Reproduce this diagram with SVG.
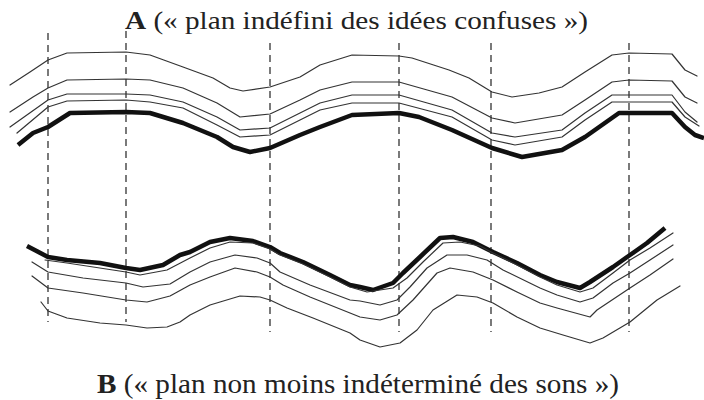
<svg xmlns="http://www.w3.org/2000/svg" width="704" height="400" viewBox="0 0 704 400">
<style>
.t{font-family:"Liberation Serif","Times New Roman",serif;fill:#222}
.th{fill:none;stroke:#333;stroke-width:1.2;stroke-linejoin:round;stroke-linecap:round}
.tk{fill:none;stroke:#111;stroke-width:4.5;stroke-linejoin:round;stroke-linecap:butt}
.d{stroke:#222;stroke-width:1.2;stroke-dasharray:7 5}
</style>
<rect width="704" height="400" fill="#fff"/>
<g id="dividers">
<line class="d" x1="48" y1="33" x2="48" y2="322"/>
<line class="d" x1="126" y1="31" x2="126" y2="322"/>
<line class="d" x1="270" y1="43" x2="270" y2="332"/>
<line class="d" x1="399" y1="43" x2="399" y2="332"/>
<line class="d" x1="491" y1="43" x2="491" y2="332"/>
<line class="d" x1="629" y1="43" x2="629" y2="332"/>
</g>
<g id="planA">
<polyline class="th" points="10,85 30,72 48,60 67,53 126,52 150,55 183,67 213,78 230,88 243,91 270,87 300,77 320,65 352,55 399,56 412,58 449,70 469,78 492,92 512,97 539,93 562,87 585,72 612,55 629,53 672,54 685,70 697,76"/>
<polyline class="th" points="10,112 33,97 48,88 67,80 126,79 150,80 183,88 217,103 240,117 270,114 300,100 320,90 352,82 399,82 452,97 492,118 515,123 562,115 585,100 612,82 629,80 672,81 685,97 697,103"/>
<polyline class="th" points="10,127 48,100 67,94 126,94 150,95 183,102 217,117 240,130 270,128 300,113 320,103 352,95 399,95 452,110 492,133 515,137 562,130 585,113 612,95 629,95 672,95 685,112 697,122"/>
<polyline class="th" points="17,133 48,107 67,101 126,100 150,102 183,108 217,125 240,137 270,135 300,120 320,110 352,103 399,103 452,117 492,140 515,145 562,137 585,120 612,102 629,102 672,102 685,117 699,126"/>
<polyline class="tk" points="18,145 33,133 48,127 70,113 126,112 150,113 183,123 217,137 233,147 250,152 270,148 300,135 320,127 352,115 399,113 419,117 452,130 492,148 522,157 562,150 585,137 619,113 672,113 685,127 695,135 704,138"/>
</g>
<g id="planB">
<polyline class="tk" points="27,246 48,257 67,260 100,263 126,268 140,270 163,265 180,255 190,252 210,242 230,238 253,241 270,247 280,253 303,262 330,275 350,285 360,287 373,290 393,283 403,273 420,257 440,238 453,237 473,242 493,252 517,263 540,275 557,282 580,288 590,282 613,267 630,255 647,243 665,228"/>
<polyline class="th" points="45,260 67,263 126,272 140,275 167,270 190,258 210,248 230,242 253,243 270,249 280,255 303,264 330,277 350,287 367,292 393,288 407,278 423,262 443,243 460,242 480,246 493,253 517,265 540,277 557,285 580,292 593,288 613,273 630,260 650,248 673,233"/>
<polyline class="th" points="32,262 48,272 83,278 126,283 143,287 170,284 190,272 210,262 235,255 257,258 270,263 280,272 310,285 350,300 360,301 380,305 397,300 410,287 427,268 447,255 467,255 487,260 503,270 540,288 557,295 580,302 593,298 613,283 630,273 650,260 673,245"/>
<polyline class="th" points="32,276 48,288 83,293 126,300 147,302 170,296 190,285 210,277 235,268 257,272 270,277 283,285 310,297 350,313 360,317 380,320 397,315 413,300 437,273 450,268 473,272 493,280 517,292 540,303 557,308 590,317 597,310 630,288 650,275 673,259"/>
<polyline class="th" points="41,302 48,311 67,318 100,323 126,325 147,328 167,327 180,322 190,315 210,305 240,296 260,297 270,300 287,308 313,318 350,333 360,340 380,347 400,343 417,330 433,310 457,295 477,297 493,303 517,317 540,328 563,335 590,343 603,338 630,322 657,300 680,286"/>
</g>
<g id="labelA">
<text class="t" x="125" y="29" font-size="26" textLength="463" lengthAdjust="spacingAndGlyphs"><tspan font-weight="bold">A</tspan> (« plan indéfini des idées confuses »)</text>
</g>
<g id="labelB">
<text class="t" x="97" y="393" font-size="28" textLength="522" lengthAdjust="spacingAndGlyphs"><tspan font-weight="bold">B</tspan> (« plan non moins indéterminé des sons »)</text>
</g>
</svg>
